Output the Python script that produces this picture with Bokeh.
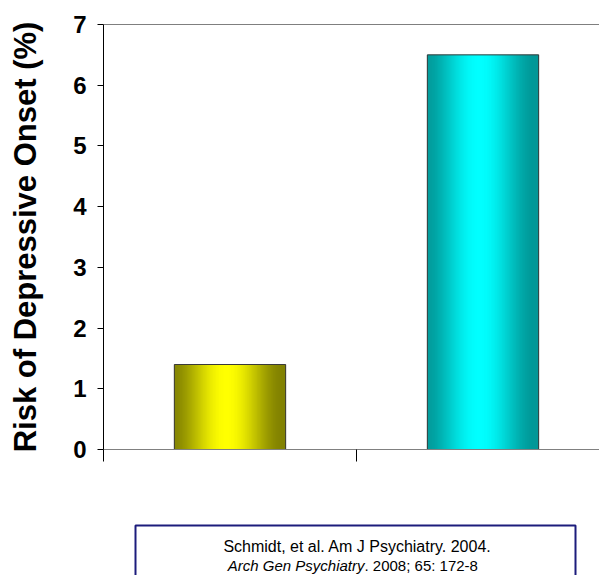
import math
from bokeh.plotting import figure
from bokeh.models import Range1d, FixedTicker, Span, ColumnDataSource
from bokeh.layouts import column
from bokeh.core.properties import value
from bokeh.embed import file_html
from bokeh.resources import INLINE

# ---- data ----
categories = ["Group A", "Group B"]
risk_values = [1.4, 6.5]
y_ticks = [0, 1, 2, 3, 4, 5, 6, 7]
y_label = "Risk of Depressive Onset (%)"
citation_line1 = "Schmidt, et al. Am J Psychiatry. 2004."
citation_line2_italic = "Arch Gen Psychiatry"
citation_line2_rest = ". 2008; 65: 172-8"

# ---- styles ----
FONT = "Liberation Sans"
bar_dark = [(128, 128, 0), (0, 150, 150)]
bar_bright = [(255, 255, 0), (0, 255, 255)]
BAR_W = 0.44
N_STRIPS = 112
PEAK = 0.47


def shade(t, dark, bright):
    d = abs(t - PEAK) / max(PEAK, 1 - PEAK)
    f = 0.5 * (1 + math.cos(math.pi * min(d, 1.0)))
    r, g, b = (int(round(dk + (br - dk) * f)) for dk, br in zip(dark, bright))
    return "#%02x%02x%02x" % (r, g, b)


xs, tops, cols = [], [], []
for i, v in enumerate(risk_values):
    center = i + 0.5
    for k in range(N_STRIPS):
        t = (k + 0.5) / N_STRIPS
        xs.append(center - BAR_W / 2 + t * BAR_W)
        tops.append(v)
        cols.append(shade(t, bar_dark[i], bar_bright[i]))
strip_src = ColumnDataSource(dict(x=xs, top=tops, color=cols))

LEFT = 103
FRAME_W = 599 - LEFT

p = figure(output_backend="svg", toolbar_location=None,
           x_range=Range1d(0, FRAME_W / 253), y_range=Range1d(0, 7),
           frame_width=FRAME_W, frame_height=425,
           min_border_left=LEFT, min_border_right=0,
           min_border_top=24, min_border_bottom=29)
p.xgrid.visible = False
p.ygrid.visible = False
p.outline_line_color = None

p.vbar(x="x", top="top", bottom=0, width=BAR_W / N_STRIPS * 1.6,
       fill_color="color", line_color=None, source=strip_src)
p.vbar(x=[i + 0.5 for i in range(len(risk_values))], top=risk_values, bottom=0,
       width=BAR_W, fill_color=None, line_color="#3a3a3a", line_width=1)

p.add_layout(Span(location=7, dimension="width", line_color="black", line_width=1))

ya = p.yaxis[0]
ya.ticker = FixedTicker(ticks=y_ticks)
ya.axis_label = y_label
ya.axis_label_text_font = FONT
ya.axis_label_text_font_style = "bold"
ya.axis_label_text_font_size = "31px"
ya.axis_label_text_color = "black"
ya.axis_label_standoff = 27
ya.major_label_text_font = FONT
ya.major_label_text_font_style = "bold"
ya.major_label_text_font_size = "24px"
ya.major_label_text_color = "black"
ya.major_label_standoff = 11
ya.major_tick_in = 0
ya.major_tick_out = 6
ya.minor_tick_in = 0
ya.minor_tick_out = 0
ya.axis_line_color = "black"
ya.major_tick_line_color = "black"

xa = p.xaxis[0]
xa.ticker = FixedTicker(ticks=[0, 1])
xa.major_label_overrides = {0: "", 1: ""}
xa.major_label_text_font_size = "1px"
xa.major_label_standoff = 0
xa.major_tick_in = 0
xa.major_tick_out = 12
xa.minor_tick_in = 0
xa.minor_tick_out = 0
xa.axis_line_color = "#808080"
xa.major_tick_line_color = "black"

# citation panel (x/y in page pixels; frame aligned with the chart frame)
C_H = 575 - (24 + 425 + 29)
c = figure(output_backend="svg", toolbar_location=None,
           x_range=Range1d(LEFT, 599), y_range=Range1d(C_H, 0),
           frame_width=FRAME_W, frame_height=C_H,
           min_border_left=LEFT, min_border_right=0,
           min_border_top=0, min_border_bottom=0,
           x_axis_type=None, y_axis_type=None)
c.xgrid.visible = False
c.ygrid.visible = False
c.outline_line_color = None
c.quad(left=[135], right=[575], top=[47], bottom=[130], fill_color=None,
       line_color="#1c1c7c", line_width=2)
c.text(x=[357], y=[68], text=[citation_line1], text_font=value(FONT),
       text_font_size="16px", text_align="center", text_baseline="middle",
       text_color="black")
c.text(x=[364], y=[87], text=[citation_line2_italic], text_font=value(FONT),
       text_font_style="italic", text_font_size="15px", text_align="right",
       text_baseline="middle", text_color="black")
c.text(x=[364], y=[87], text=[citation_line2_rest], text_font=value(FONT),
       text_font_size="15px", text_align="left", text_baseline="middle",
       text_color="black")

layout = column(p, c, spacing=0)
open("out.html", "w").write(file_html(layout, INLINE))
